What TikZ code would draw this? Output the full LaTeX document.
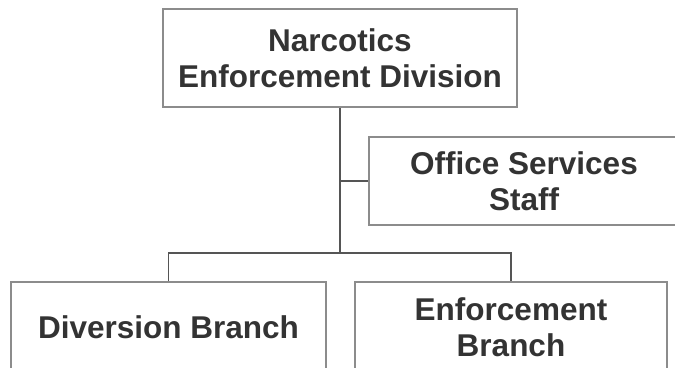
\documentclass[tikz,border=0pt]{standalone}
\usepackage{fontspec}
\setmainfont{Liberation Sans}
\definecolor{boxgray}{HTML}{8C8C8C}
\definecolor{linegray}{HTML}{555555}
\definecolor{textgray}{HTML}{333333}
\begin{document}
\begin{tikzpicture}[x=1pt,y=-1pt,
  orgbox/.style={draw=boxgray, line width=1.6pt, fill=white, inner sep=0pt,
    align=center, text=textgray,
    font=\fontsize{31.5}{36.5}\selectfont\bfseries},
  conn/.style={draw=linegray, line width=1.8pt}]
\useasboundingbox (0,0) rectangle (675,367);
\clip (0,0) rectangle (675,367);
\node[orgbox, minimum width=354pt, minimum height=98pt] (top) at (340,58) {Narcotics\\Enforcement Division};
\node[orgbox, minimum width=310pt, minimum height=88pt] (office) at (524,181) {Office Services\\Staff};
\node[orgbox, minimum width=315pt, minimum height=90pt] (div) at (168.5,327) {Diversion Branch};
\node[orgbox, minimum width=312pt, minimum height=90pt] (enf) at (511,327) {Enforcement\\Branch};
\coordinate (bus) at (340,253);
\draw[conn] (top.south) -- (bus);
\draw[conn] (top.south |- office.west) -- (office.west);
\draw[conn] (div.north) |- (bus) -| (enf.north);
\end{tikzpicture}
\end{document}
